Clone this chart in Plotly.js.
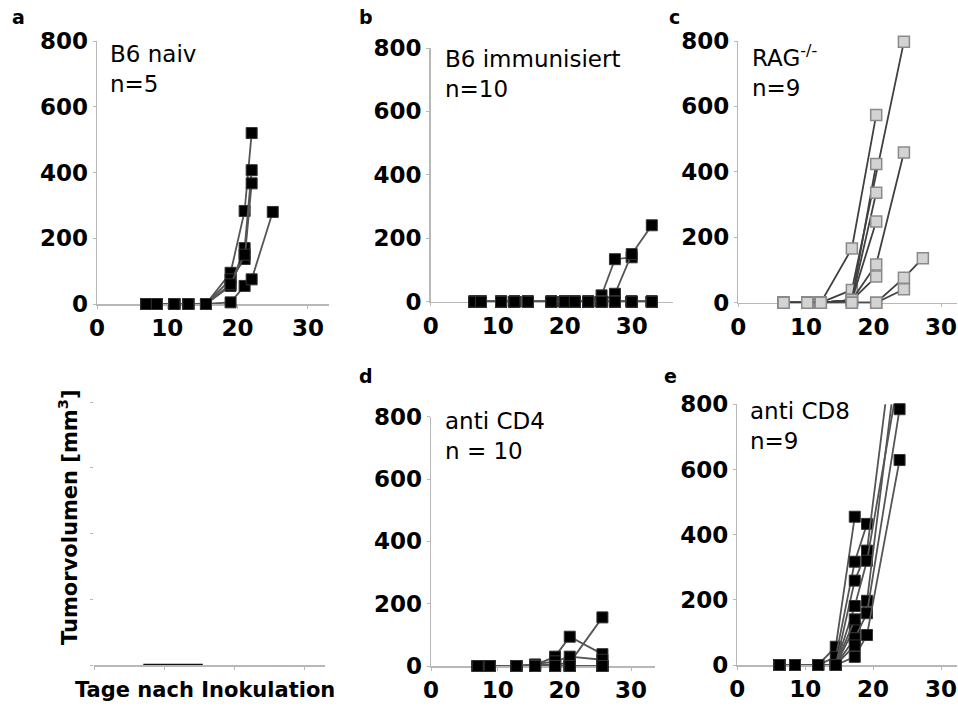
<!DOCTYPE html>
<html>
<head>
<meta charset="utf-8">
<script src="https://cdn.plot.ly/plotly-3.0.1.min.js"></script>
<style>html,body{margin:0;padding:0;background:#fff;}#chart{width:958px;height:709px;}</style>
</head>
<body>
<div id="chart"></div>
<script>
// ---------------- DATA ----------------
// Panel a: B6 naiv (n=5)
const aDays = [7, 8.5, 11, 13, 15.5, 19, 21, 22, 25];
const aMice = [
  [0, 0, 0, 0, 0, 95, 283, 520, null],
  [0, 0, 0, 0, 0, 55, 170, 407, null],
  [0, 0, 0, 0, 0, 75, 137, 367, null],
  [0, 0, 0, 0, 0, 5, 55, 75, 280],
  [0, 0, 0, 0, 0, 60, 150, null, null]
];
// Panel b: B6 immunisiert (n=10)
const bDays = [6.5, 7.5, 10.5, 12.5, 14.5, 18, 20, 21.5, 23.5, 25.5, 27.5, 30, 33];
const bMice = [
  [0, 0, 0, 0, 0, 0, 0, 0, 0, 20, 134, 140, null],
  [0, 0, 0, 0, 0, 0, 0, 0, 0, 0, 25, 150, 241],
  [0, 0, 0, 0, 0, 0, 0, 0, 0, 0, 0, 0, 0],
  [0, 0, 0, 0, 0, 0, 0, 0, 0, 0, 0, 0, 0],
  [0, 0, 0, 0, 0, 0, 0, 0, 0, 0, 0, 0, 0],
  [0, 0, 0, 0, 0, 0, 0, 0, 0, 0, 0, 0, 0],
  [0, 0, 0, 0, 0, 0, 0, 0, 0, 0, 0, 0, 0],
  [0, 0, 0, 0, 0, 0, 0, 0, 0, 0, 0, 0, 0],
  [0, 0, 0, 0, 0, 0, 0, 0, 0, 0, 0, 0, 0],
  [0, 0, 0, 0, 0, 0, 0, 0, 0, 0, 0, 0, 0]
];
// Panel c: RAG-/- (n=9)
const cDays = [6.7, 10.2, 12.2, 16.8, 20.4, 24.5, 27.3];
const cMice = [
  [0, 0, 0, 166, 574, null, null],
  [0, 0, 0, 39, null, 798, null],
  [0, 0, 0, 8, 424, null, null],
  [0, 0, 0, 8, 336, null, null],
  [0, 0, 0, 8, 248, null, null],
  [0, 0, 0, 8, 117, 459, null],
  [0, 0, 0, 8, 80, null, null],
  [0, 0, 0, 0, 0, 76, 136],
  [0, 0, 0, 0, 0, 41, null]
];
// Panel d: anti CD4 (n=10)
const dDays = [7, 8.8, 12.8, 15.6, 18.6, 20.8, 25.7];
const dMice = [
  [0, 0, 0, 3, 30, 94, 38],
  [0, 0, 0, 3, 5, 10, 156],
  [0, 0, 0, 5, 15, 30, 20],
  [0, 0, 0, 2, 0, 0, 0],
  [0, 0, 0, 0, 0, 0, 0],
  [0, 0, 0, 0, 0, 0, 0],
  [0, 0, 0, 0, 0, 0, 0],
  [0, 0, 0, 0, 0, 0, 0],
  [0, 0, 0, 0, 0, 0, 0],
  [0, 0, 0, 0, 0, 0, 0]
];
// Panel e: anti CD8 (n=9)
const eDays = [6.2, 8.5, 11.9, 14.5, 17.3, 19.1, 23.9];
const eMice = [
  [0, 0, 0, 56, 455, null, null],
  [0, 0, 0, 25, 317, 433, null],
  [0, 0, 0, 0, 259, 351, 1150],
  [0, 0, 0, 0, 181, 320, 900],
  [0, 0, 0, 0, 116, 197, 1000],
  [0, 0, 0, 0, 82, 159, 785],
  [0, 0, 0, 0, 25, 92, 629],
  [0, 0, 0, 0, 140, null, null],
  [0, 0, 0, 0, 60, null, null]
];
// Bottom-left (label panel): faded residual trace at zero
const fDays = [7, 15.5];
const fVals = [0, 0];

const xTicks = [0, 10, 20, 30];
const yTicks = [0, 200, 400, 600, 800];

const panelLabels = ['a', 'b', 'c', 'd', 'e'];
const groupTexts = ['B6 naiv<br>n=5', 'B6 immunisiert<br>n=10', 'RAG<sup>-/-</sup><br>n=9', 'anti CD4<br>n = 10', 'anti CD8<br>n=9'];
const yTitle = 'Tumorvolumen [mm<sup>3</sup>]';
const xTitle = 'Tage nach Inokulation';

// ---------------- LAYOUT GEOMETRY ----------------
const W = 958, H = 709;
const FONT = 'DejaVu Sans';
// px positions: x0 (day 0), px per day, xmax, y bottom (0), y top (800)
const geo = {
  a: {x0: 97, ppu: 7.03, xmax: 33, yb: 304, yt: 41},
  b: {x0: 430.7, ppu: 6.7, xmax: 36.2, yb: 301.7, yt: 48},
  c: {x0: 738.3, ppu: 6.76, xmax: 32.4, yb: 302.7, yt: 41},
  f: {x0: 94.3, ppu: 7.0, xmax: 33, yb: 665, yt: 402},
  d: {x0: 431, ppu: 6.67, xmax: 33.6, yb: 666, yt: 416.7},
  e: {x0: 737.3, ppu: 6.79, xmax: 32.4, yb: 665, yt: 404.3}
};
const order = ['a', 'b', 'c', 'f', 'd', 'e'];
const axisColor = '#b8b8b8';

const layout = {
  width: W, height: H,
  margin: {l: 0, r: 0, t: 0, b: 0},
  paper_bgcolor: '#fff', plot_bgcolor: 'rgba(0,0,0,0)',
  showlegend: false,
  font: {family: FONT, color: '#000'},
  annotations: [], shapes: []
};

order.forEach((k, i) => {
  const g = geo[k];
  const n = i === 0 ? '' : String(i + 1);
  const blank = k === 'f';
  layout['xaxis' + n] = {
    domain: [g.x0 / W, Math.min(1, (g.x0 + g.xmax * g.ppu) / W)],
    range: [0, g.xmax], anchor: 'y' + n,
    showline: true, linecolor: axisColor, linewidth: 1.5,
    ticks: 'outside', ticklen: 3, tickcolor: axisColor, tickwidth: 1,
    tickvals: xTicks, showticklabels: !blank, ticklabeloverflow: 'allow',
    tickfont: {family: FONT, size: 23, weight: 'bold', color: '#000'},
    showgrid: false, zeroline: false, fixedrange: true, layer: 'below traces'
  };
  layout['yaxis' + n] = {
    domain: [1 - g.yb / H, 1 - g.yt / H],
    range: [0, 800], anchor: 'x' + n,
    showline: !blank, linecolor: axisColor, linewidth: 1.5,
    ticks: 'outside', ticklen: 3, tickcolor: axisColor, tickwidth: 1,
    tickvals: yTicks, showticklabels: !blank, ticklabeloverflow: 'allow',
    tickfont: {family: FONT, size: 23, weight: 'bold', color: '#000'},
    showgrid: false, zeroline: false, fixedrange: true, layer: 'below traces'
  };
});

// panel letters and group texts
const letterPos = [[18, 17], [366, 17], [674, 17], [366, 376], [670, 376]];
const textPos = [[108, 39], [443, 44], [750, 39], [443, 406], [748, 396]];
panelLabels.forEach((t, i) => {
  layout.annotations.push({
    text: t, xref: 'paper', yref: 'paper',
    x: letterPos[i][0] / W, y: 1 - letterPos[i][1] / H,
    xanchor: 'center', yanchor: 'middle', showarrow: false,
    font: {family: FONT, size: 19, weight: 'bold', color: '#000'}
  });
  layout.annotations.push({
    text: groupTexts[i], xref: 'paper', yref: 'paper',
    x: textPos[i][0] / W, y: 1 - textPos[i][1] / H,
    xanchor: 'left', yanchor: 'top', align: 'left', showarrow: false,
    font: {family: FONT, size: 23, color: '#000'}
  });
});
// axis titles (bottom-left panel)
layout.annotations.push({
  text: yTitle, xref: 'paper', yref: 'paper',
  x: 68 / W, y: 1 - 517 / H, xanchor: 'center', yanchor: 'middle',
  textangle: -90, showarrow: false,
  font: {family: FONT, size: 21, weight: 'bold', color: '#000'}
});
layout.annotations.push({
  text: xTitle, xref: 'paper', yref: 'paper',
  x: 205 / W, y: 1 - 690 / H, xanchor: 'center', yanchor: 'middle',
  showarrow: false,
  font: {family: FONT, size: 21, weight: 'bold', color: '#000'}
});

// ---------------- TRACES ----------------
const traces = [];
function addPanel(days, mice, axIdx, style) {
  const n = axIdx === 0 ? '' : String(axIdx + 1);
  mice.forEach(vals => {
    traces.push({
      type: 'scatter', mode: 'lines+markers',
      x: days, y: vals, xaxis: 'x' + n, yaxis: 'y' + n,
      connectgaps: true, cliponaxis: false, hoverinfo: 'skip',
      line: {color: style.line, width: 1.8},
      marker: {
        symbol: 'square', color: style.fill, opacity: 1,
        size: vals.map(v => (v !== null && v > 800) ? 0 : style.size),
        line: {color: style.edge, width: style.edgeW}
      }
    });
  });
}
const darkStyle = {line: '#555555', fill: '#000000', edge: '#333333', edgeW: 1, size: 11};
const lightStyle = {line: '#404040', fill: '#d3d3d3', edge: '#8a8a8a', edgeW: 1.5, size: 11};
addPanel(aDays, aMice, 0, darkStyle);
addPanel(bDays, bMice, 1, darkStyle);
addPanel(cDays, cMice, 2, lightStyle);
addPanel(dDays, dMice, 4, darkStyle);
addPanel(eDays, eMice, 5, darkStyle);
traces.push({
  type: 'scatter', mode: 'lines', x: fDays, y: fVals, xaxis: 'x4', yaxis: 'y4',
  cliponaxis: false, hoverinfo: 'skip', line: {color: '#111', width: 2.5}
});

Plotly.newPlot('chart', traces, layout, {staticPlot: true, displayModeBar: false});
</script>
</body>
</html>
